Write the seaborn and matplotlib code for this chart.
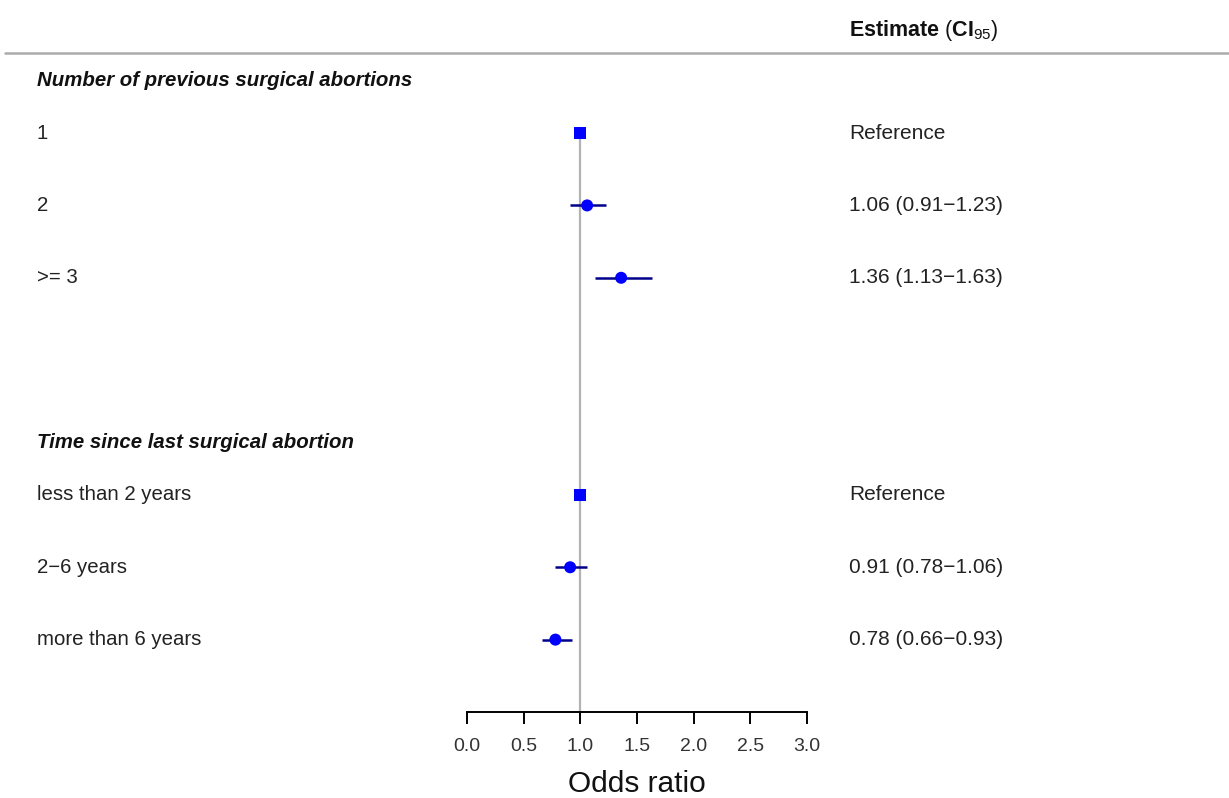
import numpy as np
import pandas as pd
import seaborn as sns
import matplotlib.pyplot as plt
from matplotlib.lines import Line2D
import matplotlib.transforms as mtransforms

# data
groups = ["Number of previous surgical abortions", "Time since last surgical abortion"]
labels_n = ["1", "2", ">= 3"]
or_n = [1.00, 1.06, 1.36]
lo_n = [np.nan, 0.91, 1.13]
hi_n = [np.nan, 1.23, 1.63]
labels_t = ["less than 2 years", "2\u22126 years", "more than 6 years"]
or_t = [1.00, 0.91, 0.78]
lo_t = [np.nan, 0.78, 0.66]
hi_t = [np.nan, 1.06, 0.93]
xticks = [0.0, 0.5, 1.0, 1.5, 2.0, 2.5, 3.0]

# row layout
rows_n = [1, 2, 3]
rows_t = [6, 7, 8]
head_rows = [0.27, 5.27]

df = pd.DataFrame({
    "label": labels_n + labels_t,
    "est": or_n + or_t,
    "lo": lo_n + lo_t,
    "hi": hi_n + hi_t,
    "row": rows_n + rows_t,
})
df["kind"] = np.where(df["lo"].isna(), "ref", "est")

sns.set_theme(style="white")
plt.rcParams["font.family"] = ["Liberation Sans", "DejaVu Sans"]
plt.rcParams["mathtext.fontset"] = "custom"
plt.rcParams["mathtext.rm"] = "Liberation Sans"
plt.rcParams["mathtext.bf"] = "Liberation Sans:bold"

W, H = 1229, 798
fs = 14.7
fig = plt.figure(figsize=(W / 100, H / 100), dpi=100)
ax = fig.add_axes([467 / W, 1 - 712 / H, 340 / W, (712 - 52) / H])
ax.set_xlim(0, 3)
ax.set_ylim(9, -0.12)

# reference line at 1
ax.plot([1, 1], [1, 9], color="#b3b3b3", lw=1.6, zorder=1, clip_on=False)

# confidence intervals
ci = df.dropna()
ax.hlines(ci["row"], ci["lo"], ci["hi"], color="#00008B", lw=1.8, zorder=2)

sns.scatterplot(data=df, x="est", y="row", style="kind",
                markers={"ref": "s", "est": "o"}, s=75, color="#0000FF",
                edgecolor="none", legend=False, ax=ax, zorder=3)

# axis styling
sns.despine(ax=ax, left=True, top=True, right=True)
ax.spines["bottom"].set_color("black")
ax.spines["bottom"].set_linewidth(1.4)
ax.set_yticks([])
ax.set_xticks(xticks)
ax.set_xticklabels([f"{t:.1f}" for t in xticks], color="#333333", fontsize=14)
ax.tick_params(axis="x", direction="out", length=8.6, width=1.4, color="black",
               pad=10, bottom=True)
ax.set_xlabel("Odds ratio", fontsize=21.5, color="#111111", labelpad=11)
ax.set_ylabel("")
ax.grid(False)

# text columns
trans_l = mtransforms.blended_transform_factory(fig.transFigure, ax.transData)
xl = 37 / W
xr = 849 / W
for g, r in zip(groups, head_rows):
    ax.text(xl, r, g, transform=trans_l, fontsize=fs, fontweight="bold",
            style="italic", va="center", ha="left", color="#111111")
for _, d in df.iterrows():
    ax.text(xl, d["row"], d["label"], transform=trans_l, fontsize=fs,
            va="center", ha="left", color="#222222")
    if d["kind"] == "ref":
        s = "Reference"
    else:
        s = f"{d['est']:.2f} ({d['lo']:.2f}\u2212{d['hi']:.2f})"
    ax.text(xr, d["row"], s, transform=trans_l, fontsize=fs + 0.3,
            va="center", ha="left", color="#222222")

ax.text(xr, -0.42, r"$\mathbf{Estimate}$ ($\mathbf{CI}_{\mathrm{95}}$)",
        transform=trans_l, fontsize=15.5, va="center", ha="left", color="#111111")

# top rule
fig.add_artist(Line2D([5 / W, 1.0], [1 - 53 / H, 1 - 53 / H],
                      color="#aaaaaa", lw=1.8, transform=fig.transFigure))

fig.savefig("out.png", dpi=100, facecolor="white")
